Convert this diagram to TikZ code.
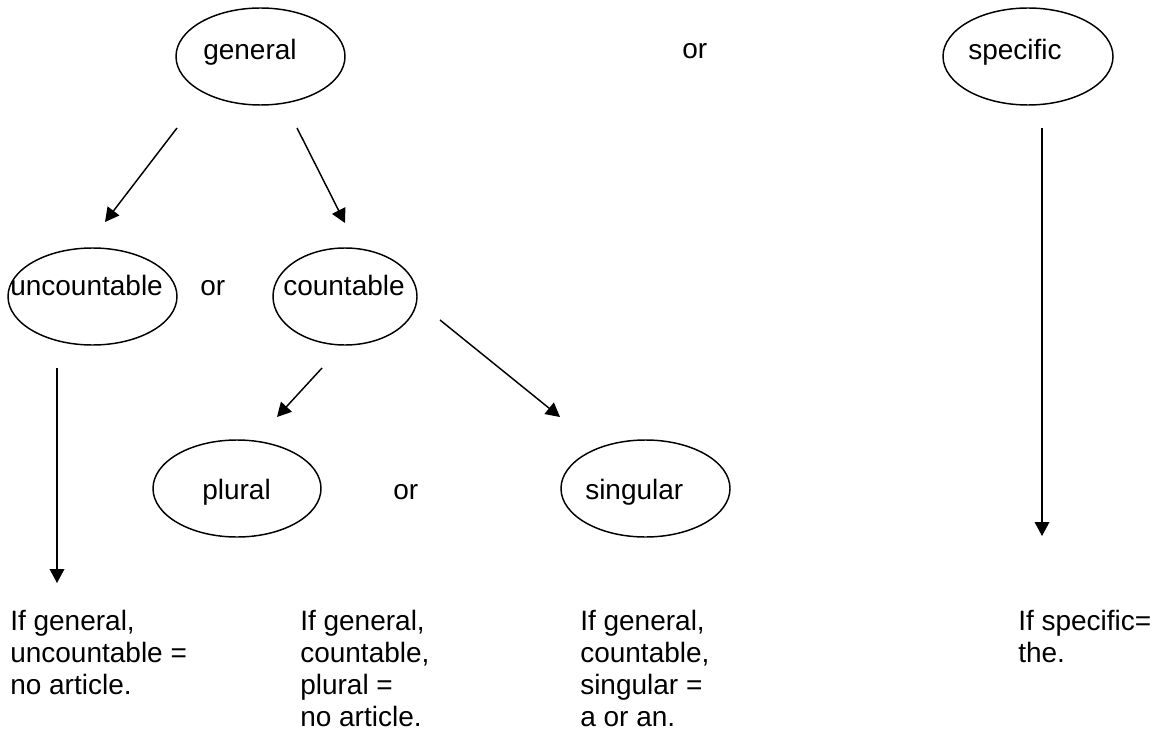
\documentclass[tikz,border=0pt]{standalone}
\usepackage{fontspec}
\setmainfont{Liberation Sans}
\usetikzlibrary{shapes.geometric,arrows.meta}

\begin{document}
\begin{tikzpicture}[x=0.75pt,y=-0.75pt,
  oval/.style={draw,ellipse,line width=1.1pt,inner sep=0pt,minimum height=72.75pt},
  word/.style={anchor=base west,inner sep=0pt,font=\fontsize{21}{24}\selectfont},
  note/.style={anchor=base west,inner sep=0pt,align=left,font=\fontsize{21}{24}\selectfont},
  arr/.style={line width=1.1pt,-{Triangle[length=10.5pt,width=11pt]}}]

\useasboundingbox (0,0) rectangle (1162,734);

% top row
\node[oval,minimum width=126.75pt] (general) at (260.5,56.5) {};
\node[word] (general-txt) at (203,60) {general};
\node[word] (or-top) at (682,59) {or};
\node[oval,minimum width=127.5pt] (specific) at (1028,56.5) {};
\node[word] (specific-txt) at (968,60) {specific};

% middle row
\node[oval,minimum width=126.75pt] (uncountable) at (92.5,296.5) {};
\node[word] (uncountable-txt) at (10,295) {uncountable};
\node[word] (or-mid) at (200,295) {or};
\node[oval,minimum width=108pt] (countable) at (345,296.5) {};
\node[word] (countable-txt) at (283,295) {countable};

% lower row
\node[oval,minimum width=126pt] (plural) at (237,488.5) {};
\node[word] (plural-txt) at (202,499) {plural};
\node[word] (or-low) at (393,499) {or};
\node[oval,minimum width=126.75pt] (singular) at (645.5,488.5) {};
\node[word] (singular-txt) at (585,499) {singular};

% rules (anchored on the last line)
\node[note] (rule-unc) at (10,694) {If general,\\uncountable =\\no article.};
\node[note] (rule-pl) at (300,726) {If general,\\countable,\\plural =\\no article.};
\node[note] (rule-sg) at (580,726) {If general,\\countable,\\singular =\\a or an.};
\node[note] (rule-sp) at (1018,662) {If specific=\\the.};

% arrow ends
\coordinate (gen-l) at (177,128);
\coordinate (gen-r) at (297,128);
\coordinate (unc-in) at (105,222);
\coordinate (cnt-in) at (345,223);
\coordinate (unc-out) at (57,368);
\coordinate (unc-end) at (57,583);
\coordinate (cnt-l) at (322,368);
\coordinate (cnt-r) at (440,320);
\coordinate (pl-in) at (277,417);
\coordinate (sg-in) at (560,417);
\coordinate (spc-out) at (1042,128);
\coordinate (spc-end) at (1042,536);

\draw[arr] (gen-l) -- (unc-in);
\draw[arr] (gen-r) -- (cnt-in);
\draw[arr] (unc-out) -- (unc-end);
\draw[arr] (cnt-l) -- (pl-in);
\draw[arr] (cnt-r) -- (sg-in);
\draw[arr] (spc-out) -- (spc-end);
\end{tikzpicture}
\end{document}
